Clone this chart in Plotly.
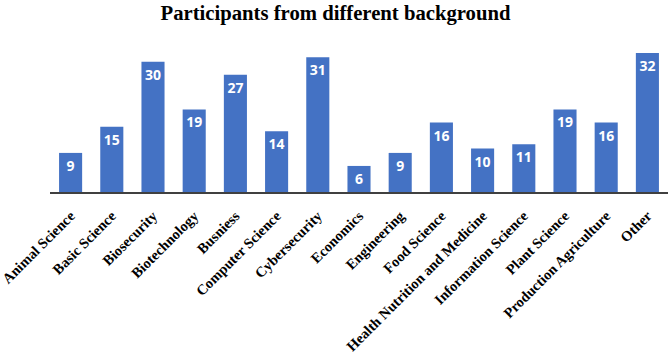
import plotly.graph_objects as go

categories = ["Animal Science", "Basic Science", "Biosecurity", "Biotechnology", "Busniess",
              "Computer Science", "Cybersecurity", "Economics", "Engineering", "Food Science",
              "Health Nutrition and Medicine", "Information Science", "Plant Science",
              "Production Agriculture", "Other"]
values = [9, 15, 30, 19, 27, 14, 31, 6, 9, 16, 10, 11, 19, 16, 32]

fig = go.Figure(go.Bar(
    x=categories, y=values,
    marker=dict(color="#4472C4", line=dict(width=0)),
    text=[str(v) for v in values],
    textposition="inside", insidetextanchor="end",
    textfont=dict(family="Open Sans", size=14, color="white", weight="bold"),
    textangle=0,
))

fig.update_layout(
    width=671, height=354,
    margin=dict(l=50, r=3, t=40, b=162),
    paper_bgcolor="white", plot_bgcolor="white",
    bargap=0.44,
    showlegend=False,
    title=dict(text="<b>Participants from different background</b>", x=0.5, xanchor="center",
               y=0.965, yanchor="middle",
               font=dict(family="Liberation Serif", size=20.7, color="black")),
    xaxis=dict(tickangle=-45, showline=True, linecolor="#404040", linewidth=1.5,
               tickfont=dict(family="Liberation Serif", size=14.5, color="black", weight="bold"),
               showgrid=False, ticks="outside", ticklen=8, tickcolor="rgba(0,0,0,0)",
               automargin=False),
    yaxis=dict(range=[0, 35], visible=False, showgrid=False, automargin=False),
)

fig.write_html("out.html", config={"displayModeBar": False},
               post_script="document.body.style.margin='0';document.body.style.padding='0';")
